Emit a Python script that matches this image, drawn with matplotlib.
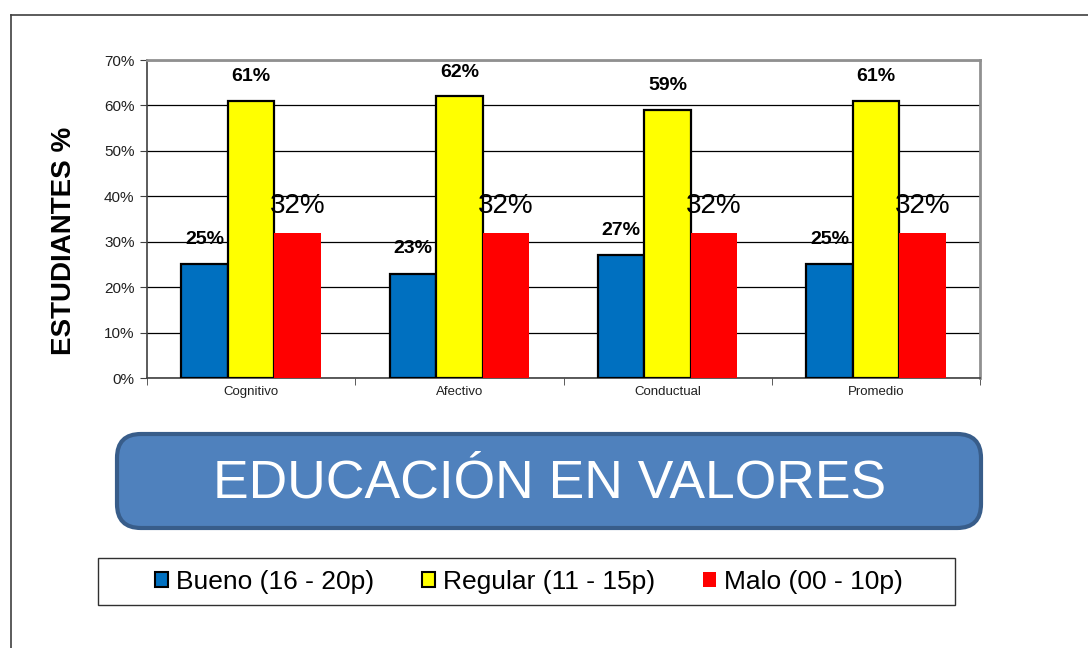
import numpy as np
import matplotlib.pyplot as plt
from matplotlib.patches import FancyBboxPatch, Rectangle, Patch
from matplotlib.lines import Line2D

plt.rcParams['font.family'] = ['Liberation Sans', 'DejaVu Sans']

categorias = ["Cognitivo", "Afectivo", "Conductual", "Promedio"]
bueno = [25, 23, 27, 25]
regular = [61, 62, 59, 61]
malo = [32, 32, 32, 32]
series = ["Bueno (16 - 20p)", "Regular (11 - 15p)", "Malo (00 - 10p)"]
yticks = [0, 10, 20, 30, 40, 50, 60, 70]

azul = "#0070C0"
amarillo = "#FFFF00"
rojo = "#FF0000"

fig = plt.figure(figsize=(10.88, 6.48), dpi=100)
W, H = 1088, 648

# marco exterior (solo arriba e izquierda visibles)
fig.add_artist(Line2D([11 / W, 11 / W], [0, 1 - 15 / H], color="#404040", lw=1.2))
fig.add_artist(Line2D([11 / W, 1], [1 - 15 / H, 1 - 15 / H], color="#404040", lw=1.2))

ax = fig.add_axes([147 / W, 1 - 378 / H, (980 - 147) / W, (378 - 60) / H])
x = np.arange(len(categorias))
w = 0.223

ax.bar(x - w, bueno, w, color=azul, edgecolor="black", linewidth=1.6, zorder=3)
ax.bar(x, regular, w, color=amarillo, edgecolor="black", linewidth=1.6, zorder=3)
ax.bar(x + w, malo, w, color=rojo, linewidth=0, zorder=3)

for xi, v in zip(x - w, bueno):
    ax.annotate(f"{v}%", (xi, v), xytext=(0, 18), textcoords="offset points",
                ha="center", va="center", fontsize=14, fontweight="bold", zorder=5)
for xi, v in zip(x, regular):
    ax.annotate(f"{v}%", (xi, v), xytext=(0, 17.5), textcoords="offset points",
                ha="center", va="center", fontsize=14, fontweight="bold", zorder=5)
for xi, v in zip(x + w, malo):
    ax.annotate(f"{v}%", (xi, v), xytext=(0, 19), textcoords="offset points",
                ha="center", va="center", fontsize=20, zorder=5)

ax.set_xlim(-0.5, len(categorias) - 0.5)
ax.set_ylim(0, 70)
ax.set_yticks(yticks)
ax.set_yticklabels([f"{t}%" for t in yticks], fontsize=11, color="#202020")
ax.set_xticks(x)
ax.set_xticklabels(categorias, fontsize=9.5, color="#202020")
ax.set_xticks(np.arange(len(categorias) + 1) - 0.5, minor=True)
ax.tick_params(axis="x", which="major", length=0, pad=6)
ax.tick_params(axis="x", which="minor", length=5, direction="out", color="#404040")
ax.tick_params(axis="y", length=5, direction="out", color="#404040", pad=4)
ax.yaxis.grid(True, color="black", lw=0.9, zorder=0)
ax.set_axisbelow(True)
for s in ["top", "right"]:
    ax.spines[s].set_color("#909090")
    ax.spines[s].set_linewidth(2)
for s in ["left", "bottom"]:
    ax.spines[s].set_color("#404040")
    ax.spines[s].set_linewidth(1.2)

fig.text(64 / W, 1 - 241 / H, "ESTUDIANTES %", rotation=90, ha="center", va="center",
         fontsize=20, fontweight="bold")

# cuadro del titulo
caja = FancyBboxPatch((117 / W, 1 - 528 / H), (981 - 117) / W, (528 - 434) / H,
                      boxstyle="round,pad=0,rounding_size=0.022",
                      transform=fig.transFigure, facecolor="#4F81BD",
                      edgecolor="#385D8A", linewidth=3, mutation_aspect=W / H)
fig.add_artist(caja)
fig.text(550 / W, 1 - 483 / H, "EDUCACIÓN EN VALORES", ha="center", va="center",
         fontsize=38.5, color="white")

# leyenda
fig.add_artist(Rectangle((98 / W, 1 - 605 / H), (955 - 98) / W, (605 - 558) / H,
                         transform=fig.transFigure, facecolor="white",
                         edgecolor="#303030", linewidth=1))
handles = [Patch(facecolor=azul, edgecolor="black", linewidth=1.5),
           Patch(facecolor=amarillo, edgecolor="black", linewidth=1.5),
           Patch(facecolor=rojo, edgecolor="none")]
fig.legend(handles, series, loc="center", bbox_to_anchor=(529 / W, 1 - 582 / H),
           ncol=3, frameon=False, fontsize=19, handlelength=0.5, handleheight=0.5,
           handletextpad=0.3, columnspacing=1.8, borderpad=0)

fig.savefig("out.png", dpi=100)
